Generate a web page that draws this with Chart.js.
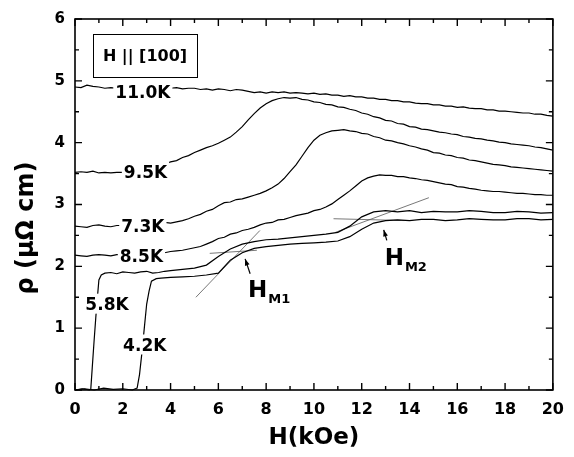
<!DOCTYPE html>
<html>
<head>
<meta charset="utf-8">
<script src="https://cdn.jsdelivr.net/npm/chart.js@4/dist/chart.umd.min.js"></script>
<style>
    html, body { margin: 0; padding: 0; background: #fff; }
    #wrap { width: 574px; height: 457px; }
</style>
</head>
<body>
<div id="wrap"><canvas id="rhoChart" width="574" height="457"></canvas></div>
<script>
/* -------- Data (H in kOe, rho in uOhm cm) -------- */
const FIELD = [0, 0.25, 0.5, 0.75, 1, 1.25, 1.5, 1.75, 2, 2.25,
    2.5, 2.75, 3, 3.25, 3.5, 3.75, 4, 4.25, 4.5, 4.75,
    5, 5.25, 5.5, 5.75, 6, 6.25, 6.5, 6.75, 7, 7.25,
    7.5, 7.75, 8, 8.25, 8.5, 8.75, 9, 9.25, 9.5, 9.75,
    10, 10.25, 10.5, 10.75, 11, 11.25, 11.5, 11.75, 12, 12.25,
    12.5, 12.75, 13, 13.25, 13.5, 13.75, 14, 14.25, 14.5, 14.75,
    15, 15.25, 15.5, 15.75, 16, 16.25, 16.5, 16.75, 17, 17.25,
    17.5, 17.75, 18, 18.25, 18.5, 18.75, 19, 19.25, 19.5, 19.75,
    20];

const RHO_110 = [4.90, 4.89, 4.93, 4.91, 4.90, 4.88, 4.89, 4.88, 4.89, 4.88,
    4.88, 4.89, 4.88, 4.89, 4.88, 4.89, 4.88, 4.89, 4.87, 4.88,
    4.88, 4.86, 4.87, 4.85, 4.87, 4.86, 4.84, 4.86, 4.85, 4.83,
    4.81, 4.82, 4.80, 4.82, 4.81, 4.82, 4.80, 4.81, 4.80, 4.79,
    4.80, 4.78, 4.79, 4.77, 4.77, 4.75, 4.76, 4.74, 4.74, 4.72,
    4.72, 4.70, 4.70, 4.68, 4.68, 4.66, 4.66, 4.64, 4.63, 4.63,
    4.61, 4.61, 4.59, 4.59, 4.57, 4.58, 4.56, 4.55, 4.55, 4.53,
    4.53, 4.51, 4.51, 4.50, 4.49, 4.48, 4.48, 4.46, 4.46, 4.44,
    4.43];
const RHO_95 = [3.52, 3.53, 3.52, 3.54, 3.51, 3.52, 3.51, 3.52, 3.52, 3.51,
    3.52, 3.52, 3.53, 3.55, 3.58, 3.65, 3.69, 3.71, 3.76, 3.79,
    3.84, 3.88, 3.92, 3.95, 3.99, 4.04, 4.09, 4.17, 4.26, 4.37,
    4.47, 4.56, 4.63, 4.68, 4.71, 4.73, 4.72, 4.73, 4.70, 4.69,
    4.66, 4.65, 4.62, 4.61, 4.58, 4.57, 4.54, 4.52, 4.48, 4.46,
    4.42, 4.40, 4.36, 4.35, 4.31, 4.30, 4.26, 4.25, 4.22, 4.21,
    4.19, 4.17, 4.16, 4.14, 4.13, 4.10, 4.09, 4.07, 4.06, 4.04,
    4.03, 4.01, 4.00, 3.98, 3.97, 3.96, 3.95, 3.93, 3.92, 3.90,
    3.88];
const RHO_73 = [2.65, 2.64, 2.63, 2.66, 2.67, 2.65, 2.64, 2.66, 2.66, 2.65,
    2.65, 2.66, 2.66, 2.67, 2.68, 2.71, 2.70, 2.72, 2.74, 2.77,
    2.81, 2.84, 2.89, 2.92, 2.98, 3.03, 3.04, 3.08, 3.09, 3.12,
    3.15, 3.18, 3.22, 3.27, 3.33, 3.42, 3.53, 3.64, 3.78, 3.92,
    4.04, 4.12, 4.16, 4.19, 4.20, 4.21, 4.19, 4.18, 4.15, 4.14,
    4.10, 4.08, 4.04, 4.03, 4.00, 3.98, 3.95, 3.93, 3.90, 3.88,
    3.84, 3.83, 3.80, 3.79, 3.76, 3.75, 3.72, 3.71, 3.69, 3.67,
    3.65, 3.64, 3.63, 3.61, 3.60, 3.59, 3.58, 3.57, 3.56, 3.55,
    3.54];
const RHO_85 = [2.18, 2.17, 2.16, 2.18, 2.19, 2.18, 2.17, 2.19, 2.19, 2.18,
    2.18, 2.19, 2.20, 2.21, 2.23, 2.22, 2.24, 2.25, 2.26, 2.28,
    2.30, 2.32, 2.36, 2.40, 2.45, 2.47, 2.52, 2.54, 2.58, 2.60,
    2.63, 2.67, 2.70, 2.71, 2.75, 2.76, 2.79, 2.82, 2.84, 2.86,
    2.90, 2.92, 2.96, 3.01, 3.08, 3.15, 3.22, 3.30, 3.38, 3.43,
    3.46, 3.48, 3.47, 3.47, 3.45, 3.45, 3.43, 3.42, 3.40, 3.39,
    3.37, 3.35, 3.33, 3.32, 3.29, 3.28, 3.26, 3.25, 3.23, 3.22,
    3.21, 3.21, 3.20, 3.19, 3.18, 3.18, 3.17, 3.16, 3.16, 3.15,
    3.15];

const FIELD_58 = [0, 0.3, 0.6, 0.66, 0.72, 0.8, 0.87, 0.95, 1.0, 1.1,
    1.25, 1.5, 1.75, 2, 2.25, 2.5, 2.75, 3, 3.25, 3.5,
    3.75, 4, 4.5, 5, 5.5, 6, 6.5, 7, 7.5, 8,
    8.5, 9, 9.5, 10, 10.5, 11, 11.5, 12, 12.5, 13,
    13.5, 14, 14.5, 15, 15.5, 16, 16.5, 17, 17.5, 18,
    18.5, 19, 19.5, 20];
const RHO_58 = [0, 0.02, 0, 0.01, 0.35, 0.8, 1.17, 1.55, 1.78, 1.86,
    1.89, 1.90, 1.88, 1.91, 1.90, 1.89, 1.91, 1.92, 1.89, 1.90,
    1.92, 1.93, 1.95, 1.97, 2.02, 2.16, 2.28, 2.36, 2.40, 2.43,
    2.44, 2.46, 2.48, 2.50, 2.52, 2.55, 2.65, 2.80, 2.88, 2.90,
    2.88, 2.90, 2.87, 2.89, 2.88, 2.88, 2.90, 2.89, 2.87, 2.87,
    2.89, 2.88, 2.86, 2.87];

const FIELD_42 = [0, 0.4, 0.8, 1.2, 1.6, 2.0, 2.4, 2.6, 2.7, 2.8,
    2.9, 3.0, 3.1, 3.2, 3.4, 3.6, 4, 4.5, 5, 5.5,
    6, 6.5, 7, 7.5, 8, 8.5, 9, 9.5, 10, 10.5,
    11, 11.5, 12, 12.5, 13, 13.5, 14, 14.5, 15, 15.5,
    16, 16.5, 17, 17.5, 18, 18.5, 19, 19.5, 20];
const RHO_42 = [0, 0.02, 0, 0.03, 0.01, 0.02, 0, 0.03, 0.25, 0.6,
    1.0, 1.39, 1.6, 1.76, 1.80, 1.81, 1.82, 1.83, 1.84, 1.86,
    1.89, 2.10, 2.22, 2.29, 2.32, 2.34, 2.36, 2.37, 2.38, 2.39,
    2.41, 2.48, 2.60, 2.70, 2.74, 2.75, 2.74, 2.76, 2.76, 2.74,
    2.75, 2.77, 2.76, 2.75, 2.75, 2.77, 2.77, 2.75, 2.76];

/* tangent construction lines for H_M1 and H_M2 */
const TANGENT_M1_DIAG = { h: [5.06, 7.74], rho: [1.50, 2.58] };
const TANGENT_M1_FLAT = { h: [5.64, 7.61], rho: [2.21, 2.26] };
const TANGENT_M2_DIAG = { h: [10.9, 14.81], rho: [2.55, 3.11] };
const TANGENT_M2_FLAT = { h: [10.82, 13.79], rho: [2.77, 2.74] };

const X_TICKS = [0, 2, 4, 6, 8, 10, 12, 14, 16, 18, 20];
const Y_TICKS = [0, 1, 2, 3, 4, 5, 6];

/* -------- Helpers -------- */
const toPoints = (xs, ys) => xs.map((v, i) => ({ x: v, y: ys[i] }));

function curve(xs, ys) {
    return {
        data: toPoints(xs, ys),
        borderColor: '#000',
        borderWidth: 1.2,
        pointRadius: 0,
        showLine: true,
        tension: 0,
        clip: 4
    };
}

function tangent(t) {
    return {
        data: toPoints(t.h, t.rho),
        borderColor: '#555',
        borderWidth: 0.8,
        pointRadius: 0,
        showLine: true
    };
}

/* -------- Curve labels, arrows (placed in data units) -------- */
const CURVE_LABELS = [
    { text: '11.0K', h: 2.84, rho: 4.81 },
    { text: '9.5K', h: 2.95, rho: 3.52 },
    { text: '7.3K', h: 2.84, rho: 2.65 },
    { text: '8.5K', h: 2.78, rho: 2.16 },
    { text: '5.8K', h: 1.34, rho: 1.38 },
    { text: '4.2K', h: 2.92, rho: 0.72 }
];

const MARKERS = [
    { sub: 'M1', tail: [7.33, 1.88], head: [7.12, 2.12], text: [7.24, 1.51] },
    { sub: 'M2', tail: [13.05, 2.42], head: [12.92, 2.59], text: [12.96, 2.02] }
];

const FONT = '"DejaVu Sans", "Liberation Sans", Arial, sans-serif';

const annotate = {
    id: 'annotate',
    afterDatasetsDraw(chart) {
        const { ctx, scales: { x, y } } = chart;
        ctx.save();

        /* curve labels sit on a white patch so the trace breaks behind them */
        ctx.font = 'bold 17px ' + FONT;
        ctx.textAlign = 'center';
        ctx.textBaseline = 'middle';
        CURVE_LABELS.forEach(l => {
            const px = x.getPixelForValue(l.h);
            const py = y.getPixelForValue(l.rho);
            const w = ctx.measureText(l.text).width;
            ctx.fillStyle = '#fff';
            ctx.fillRect(px - w / 2 - 2, py - 11, w + 4, 20);
            ctx.fillStyle = '#000';
            ctx.fillText(l.text, px, py + 1);
        });

        /* H_M arrows and their labels */
        MARKERS.forEach(m => {
            const tx = x.getPixelForValue(m.tail[0]), ty = y.getPixelForValue(m.tail[1]);
            const hx = x.getPixelForValue(m.head[0]), hy = y.getPixelForValue(m.head[1]);
            const ang = Math.atan2(hy - ty, hx - tx);
            ctx.strokeStyle = '#000';
            ctx.lineWidth = 1.2;
            ctx.beginPath();
            ctx.moveTo(tx, ty);
            ctx.lineTo(hx, hy);
            ctx.stroke();
            ctx.fillStyle = '#000';
            ctx.beginPath();
            ctx.moveTo(hx, hy);
            ctx.lineTo(hx - 7 * Math.cos(ang - 0.35), hy - 7 * Math.sin(ang - 0.35));
            ctx.lineTo(hx - 7 * Math.cos(ang + 0.35), hy - 7 * Math.sin(ang + 0.35));
            ctx.closePath();
            ctx.fill();

            const bx = x.getPixelForValue(m.text[0]), by = y.getPixelForValue(m.text[1]);
            ctx.textAlign = 'left';
            ctx.textBaseline = 'alphabetic';
            ctx.font = 'bold 23px ' + FONT;
            ctx.fillText('H', bx, by);
            const hw = ctx.measureText('H').width;
            ctx.font = 'bold 13px ' + FONT;
            ctx.fillText(m.sub, bx + hw + 1, by + 6);
        });
        ctx.restore();
    }
};

const frame = {
    id: 'frame',
    afterDraw(chart) {
        const { ctx, chartArea: a, scales: { x, y } } = chart;
        ctx.save();
        ctx.strokeStyle = '#000';
        ctx.lineWidth = 1.6;
        ctx.strokeRect(a.left, a.top, a.right - a.left, a.bottom - a.top);

        /* inward ticks on all four sides */
        ctx.lineWidth = 1.4;
        ctx.beginPath();
        for (let v = 0; v <= 20; v++) {
            const len = v % 2 === 0 ? 7 : 4;
            const px = x.getPixelForValue(v);
            ctx.moveTo(px, a.bottom); ctx.lineTo(px, a.bottom - len);
            ctx.moveTo(px, a.top); ctx.lineTo(px, a.top + len);
        }
        for (let k = 0; k <= 12; k++) {
            const len = k % 2 === 0 ? 7 : 4;
            const py = y.getPixelForValue(k / 2);
            ctx.moveTo(a.left, py); ctx.lineTo(a.left + len, py);
            ctx.moveTo(a.right, py); ctx.lineTo(a.right - len, py);
        }
        ctx.stroke();

        /* field direction box */
        ctx.lineWidth = 1;
        ctx.strokeRect(a.left + 18.5, a.top + 15.5, 104, 43);
        ctx.fillStyle = '#000';
        ctx.font = 'bold 16px ' + FONT;
        ctx.textAlign = 'center';
        ctx.textBaseline = 'middle';
        ctx.fillText('H || [100]', a.left + 70, a.top + 38);

        /* axis titles */
        ctx.font = 'bold 23px ' + FONT;
        ctx.fillText('H(kOe)', (a.left + a.right) / 2, 438);
        ctx.translate(27, 228);
        ctx.rotate(-Math.PI / 2);
        ctx.font = 'bold 24px ' + FONT;
        ctx.fillText('\u03C1 (\u03BC\u03A9 cm)', 0, 0);
        ctx.restore();
    }
};

/* -------- Chart -------- */
new Chart(document.getElementById('rhoChart').getContext('2d'), {
    type: 'scatter',
    data: {
        datasets: [
            curve(FIELD, RHO_110),
            curve(FIELD, RHO_95),
            curve(FIELD, RHO_73),
            curve(FIELD, RHO_85),
            curve(FIELD_58, RHO_58),
            curve(FIELD_42, RHO_42),
            tangent(TANGENT_M1_DIAG),
            tangent(TANGENT_M1_FLAT),
            tangent(TANGENT_M2_DIAG),
            tangent(TANGENT_M2_FLAT)
        ]
    },
    options: {
        responsive: false,
        devicePixelRatio: 1,
        animation: false,
        layout: { padding: { top: 13, right: 13, left: 0, bottom: 0 } },
        plugins: { legend: { display: false }, tooltip: { enabled: false } },
        scales: {
            x: {
                type: 'linear',
                min: 0,
                max: 20,
                afterFit: s => { s.height = 67; },
                afterBuildTicks: s => { s.ticks = X_TICKS.map(v => ({ value: v })); },
                grid: { display: false, drawTicks: false },
                border: { display: false },
                ticks: { color: '#000', font: { family: FONT, size: 16, weight: 'bold' }, padding: 10, maxRotation: 0, autoSkip: false }
            },
            y: {
                type: 'linear',
                min: 0,
                max: 6,
                afterFit: s => { s.width = 75; },
                afterBuildTicks: s => { s.ticks = Y_TICKS.map(v => ({ value: v })); },
                grid: { display: false, drawTicks: false },
                border: { display: false },
                ticks: { color: '#000', font: { family: FONT, size: 15, weight: 'bold' }, padding: 10 }
            }
        }
    },
    plugins: [annotate, frame]
});
</script>
</body>
</html>
